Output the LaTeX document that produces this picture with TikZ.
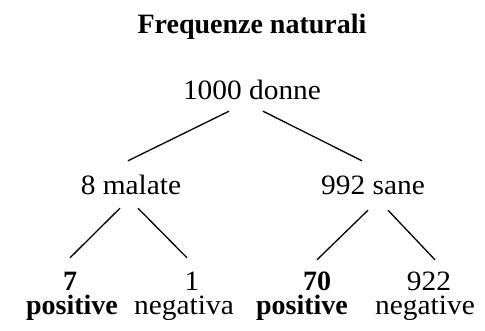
\documentclass[tikz,border=0pt]{standalone}
\usepackage{fontspec}
\setmainfont{Liberation Serif}
\newfontfamily\regfont[FakeStretch=1.05]{Liberation Serif}
\usetikzlibrary{calc}
\tikzset{
  lbl/.style={inner sep=0pt, anchor=base, font=\fontsize{28}{30}\selectfont\regfont},
  blbl/.style={inner sep=0pt, anchor=base, font=\fontsize{28}{30}\selectfont\bfseries},
  sized/.style={text height=20pt, text depth=6pt},
  numsized/.style={text height=20pt, text depth=0pt},
  branch/.style={draw=black, line width=1.3pt}
}
\begin{document}
\begin{tikzpicture}[x=1pt,y=-1pt]
\useasboundingbox (0,0) rectangle (485,330);
\node[blbl] (title) at (252,33) {Frequenze naturali};
\node[lbl,sized] (root) at (252,99) {1000 donne};
\node[lbl,sized] (malate) at (131,194) {8 malate};
\node[lbl,sized] (sane) at (373,194) {992 sane};
\node[blbl,numsized] (n7) at (70,290) {7};
\node[lbl,numsized] (n1) at (192,290) {1};
\node[blbl,numsized] (n70) at (317,290) {70};
\node[lbl,numsized] (n922) at (429,290) {922};
\node[blbl] (p1) at (72,314) {positive};
\node[lbl] (g1) at (184,314) {negativa};
\node[blbl] (p2) at (302,314) {positive};
\node[lbl] (g2) at (425,314) {negative};
\draw[branch] ($(root.south)+(-23,6)$) -- ($(malate.north)+(-3,-13)$);
\draw[branch] ($(root.south)+(11,6)$) -- ($(sane.north)+(-11,-13)$);
\draw[branch] ($(malate.south)+(-11,8)$) -- ($(n7.north)+(0,-12)$);
\draw[branch] ($(malate.south)+(7,8)$) -- ($(n1.north)+(-5,-12)$);
\draw[branch] ($(sane.south)+(-5,10)$) -- ($(n70.north)+(0,-10)$);
\draw[branch] ($(sane.south)+(15,10)$) -- ($(n922.north)+(6,-10)$);
\end{tikzpicture}
\end{document}
